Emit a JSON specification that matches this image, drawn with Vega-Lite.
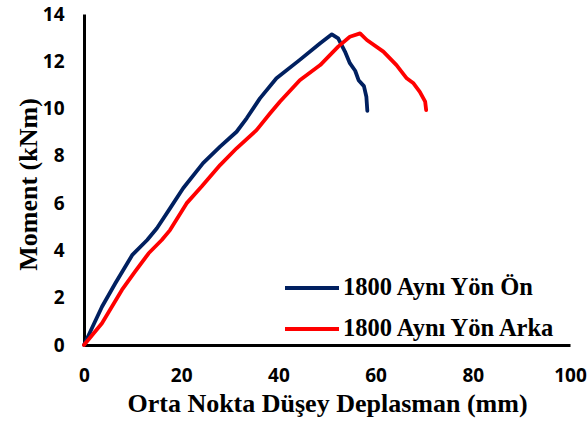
{
  "$schema": "https://vega.github.io/schema/vega-lite/v6.json",
  "autosize": {"type": "none"},
  "padding": {"left": 84, "top": 14, "right": 18, "bottom": 78},
  "width": 486,
  "height": 331,
  "background": "white",
  "data": {"values": [
    {"s": "1800 Aynı Yön Ön", "i": 0, "d": 0, "m": 0},
    {"s": "1800 Aynı Yön Ön", "i": 1, "d": 3.7, "m": 1.62},
    {"s": "1800 Aynı Yön Ön", "i": 2, "d": 6.45, "m": 2.61},
    {"s": "1800 Aynı Yön Ön", "i": 3, "d": 9.9, "m": 3.8},
    {"s": "1800 Aynı Yön Ön", "i": 4, "d": 13, "m": 4.44},
    {"s": "1800 Aynı Yön Ön", "i": 5, "d": 15, "m": 4.94},
    {"s": "1800 Aynı Yön Ön", "i": 6, "d": 17.7, "m": 5.78},
    {"s": "1800 Aynı Yön Ön", "i": 7, "d": 20.4, "m": 6.63},
    {"s": "1800 Aynı Yön Ön", "i": 8, "d": 24.5, "m": 7.69},
    {"s": "1800 Aynı Yön Ön", "i": 9, "d": 28, "m": 8.39},
    {"s": "1800 Aynı Yön Ön", "i": 10, "d": 31.4, "m": 9.02},
    {"s": "1800 Aynı Yön Ön", "i": 11, "d": 33.5, "m": 9.6},
    {"s": "1800 Aynı Yön Ön", "i": 12, "d": 36.2, "m": 10.43},
    {"s": "1800 Aynı Yön Ön", "i": 13, "d": 39.6, "m": 11.28},
    {"s": "1800 Aynı Yön Ön", "i": 14, "d": 44.4, "m": 12.06},
    {"s": "1800 Aynı Yön Ön", "i": 15, "d": 48.6, "m": 12.76},
    {"s": "1800 Aynı Yön Ön", "i": 16, "d": 51, "m": 13.14},
    {"s": "1800 Aynı Yön Ön", "i": 17, "d": 52.3, "m": 12.97},
    {"s": "1800 Aynı Yön Ön", "i": 18, "d": 53.7, "m": 12.41},
    {"s": "1800 Aynı Yön Ön", "i": 19, "d": 54.7, "m": 11.92},
    {"s": "1800 Aynı Yön Ön", "i": 20, "d": 55.8, "m": 11.6},
    {"s": "1800 Aynı Yön Ön", "i": 21, "d": 56.5, "m": 11.2},
    {"s": "1800 Aynı Yön Ön", "i": 22, "d": 57.6, "m": 10.95},
    {"s": "1800 Aynı Yön Ön", "i": 23, "d": 58.1, "m": 10.5},
    {"s": "1800 Aynı Yön Ön", "i": 24, "d": 58.3, "m": 9.9},
    {"s": "1800 Aynı Yön Arka", "i": 0, "d": 0, "m": 0},
    {"s": "1800 Aynı Yön Arka", "i": 1, "d": 3.7, "m": 0.92},
    {"s": "1800 Aynı Yön Arka", "i": 2, "d": 7.8, "m": 2.33},
    {"s": "1800 Aynı Yön Arka", "i": 3, "d": 10.5, "m": 3.1},
    {"s": "1800 Aynı Yön Arka", "i": 4, "d": 13.3, "m": 3.88},
    {"s": "1800 Aynı Yön Arka", "i": 5, "d": 16, "m": 4.44},
    {"s": "1800 Aynı Yön Arka", "i": 6, "d": 17.7, "m": 4.86},
    {"s": "1800 Aynı Yön Arka", "i": 7, "d": 21.1, "m": 5.99},
    {"s": "1800 Aynı Yön Arka", "i": 8, "d": 24.2, "m": 6.7},
    {"s": "1800 Aynı Yön Arka", "i": 9, "d": 28, "m": 7.61},
    {"s": "1800 Aynı Yön Arka", "i": 10, "d": 31.4, "m": 8.32},
    {"s": "1800 Aynı Yön Arka", "i": 11, "d": 35.5, "m": 9.09},
    {"s": "1800 Aynı Yön Arka", "i": 12, "d": 38.3, "m": 9.8},
    {"s": "1800 Aynı Yön Arka", "i": 13, "d": 40.3, "m": 10.29},
    {"s": "1800 Aynı Yön Arka", "i": 14, "d": 44.4, "m": 11.2},
    {"s": "1800 Aynı Yön Arka", "i": 15, "d": 48.6, "m": 11.84},
    {"s": "1800 Aynı Yön Arka", "i": 16, "d": 52.3, "m": 12.62},
    {"s": "1800 Aynı Yön Arka", "i": 17, "d": 54.7, "m": 13.04},
    {"s": "1800 Aynı Yön Arka", "i": 18, "d": 56.8, "m": 13.18},
    {"s": "1800 Aynı Yön Arka", "i": 19, "d": 58.2, "m": 12.9},
    {"s": "1800 Aynı Yön Arka", "i": 20, "d": 61.6, "m": 12.41},
    {"s": "1800 Aynı Yön Arka", "i": 21, "d": 64.3, "m": 11.84},
    {"s": "1800 Aynı Yön Arka", "i": 22, "d": 66.4, "m": 11.28},
    {"s": "1800 Aynı Yön Arka", "i": 23, "d": 67.8, "m": 11.07},
    {"s": "1800 Aynı Yön Arka", "i": 24, "d": 69.1, "m": 10.71},
    {"s": "1800 Aynı Yön Arka", "i": 25, "d": 70.2, "m": 10.29},
    {"s": "1800 Aynı Yön Arka", "i": 26, "d": 70.4, "m": 9.94}
  ]},
  "mark": {"type": "line", "strokeWidth": 3.8, "strokeJoin": "round", "strokeCap": "round"},
  "encoding": {
    "x": {"field": "d", "type": "quantitative", "scale": {"domain": [0, 100], "nice": false},
      "axis": {"title": "Orta Nokta Düşey Deplasman (mm)", "values": [0, 20, 40, 60, 80, 100]}},
    "y": {"field": "m", "type": "quantitative", "scale": {"domain": [0, 14], "nice": false},
      "axis": {"title": "Moment (kNm)", "values": [0, 2, 4, 6, 8, 10, 12, 14], "titleX": -56, "titleY": 170, "titleBaseline": "middle", "titleAlign": "center", "titleAngle": -90}},
    "color": {"field": "s", "type": "nominal", "sort": ["1800 Aynı Yön Ön", "1800 Aynı Yön Arka"],
      "scale": {"domain": ["1800 Aynı Yön Ön", "1800 Aynı Yön Arka"], "range": ["#002060", "#FF0000"]},
      "legend": {"title": null, "orient": "none", "legendX": 199, "legendY": 245, "symbolType": "stroke", "symbolSize": 2916, "symbolStrokeWidth": 4, "labelFont": "Liberation Serif", "labelFontSize": 24.5, "labelFontWeight": "bold", "labelColor": "black", "labelOffset": 2, "rowPadding": -27, "labelLimit": 400}},
    "order": {"field": "i", "type": "quantitative"}
  },
  "config": {
    "view": {"stroke": null},
    "axis": {"grid": false, "ticks": false, "domainColor": "black", "domainWidth": 3,
      "labelFont": "Open Sans", "labelFontSize": 19, "labelFontWeight": "bold", "labelColor": "black",
      "titleFont": "Liberation Serif", "titleFontSize": 26, "titleFontWeight": "bold", "titleColor": "black"},
    "axisX": {"labelPadding": 21, "titlePadding": 5, "labelFlush": false},
    "axisY": {"labelPadding": 20, "labelFlush": false}
  }
}
